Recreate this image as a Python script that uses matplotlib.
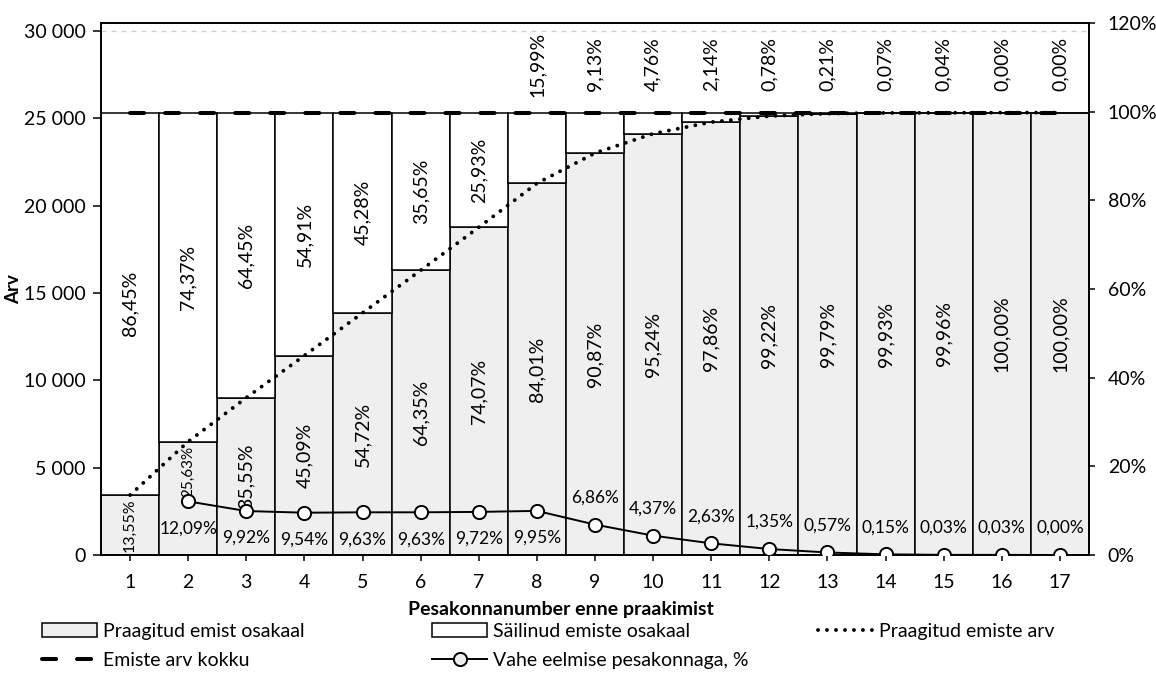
import numpy as np
import matplotlib
matplotlib.use("Agg")
import matplotlib.pyplot as plt
from matplotlib.ticker import FuncFormatter, MultipleLocator
from matplotlib.patches import Patch
from matplotlib.lines import Line2D

plt.rcParams["font.family"] = ["Lato", "DejaVu Sans"]

# litter number before culling
litters = [1, 2, 3, 4, 5, 6, 7, 8, 9, 10, 11, 12, 13, 14, 15, 16, 17]
# culled sows (cumulative count) and retained sows
culled_count = [3431, 6490, 9001, 11417, 13855, 16293, 18755, 21271, 23008,
                24115, 24778, 25122, 25267, 25302, 25310, 25320, 25320]
retained_count = [21889, 18830, 16319, 13903, 11465, 9027, 6565, 4049, 2312,
                  1205, 542, 198, 53, 18, 10, 0, 0]
total_count = [25320, 25320, 25320, 25320, 25320, 25320, 25320, 25320, 25320,
               25320, 25320, 25320, 25320, 25320, 25320, 25320, 25320]
# shares, %
culled_share = [13.55, 25.63, 35.55, 45.09, 54.72, 64.35, 74.07, 84.01, 90.87,
                95.24, 97.86, 99.22, 99.79, 99.93, 99.96, 100.00, 100.00]
retained_share = [86.45, 74.37, 64.45, 54.91, 45.28, 35.65, 25.93, 15.99, 9.13,
                  4.76, 2.14, 0.78, 0.21, 0.07, 0.04, 0.00, 0.00]
# difference from previous litter, %
diff_litters = [2, 3, 4, 5, 6, 7, 8, 9, 10, 11, 12, 13, 14, 15, 16, 17]
diff_prev = [12.09, 9.92, 9.54, 9.63, 9.63, 9.72, 9.95, 6.86, 4.37, 2.63,
             1.35, 0.57, 0.15, 0.03, 0.03, 0.00]


def pct(v):
    return f"{v:.2f}%".replace(".", ",")


W, H = 1156, 673
fig = plt.figure(figsize=(W / 100, H / 100), dpi=100)
ax = fig.add_axes([101 / W, 118 / H, 988 / W, 532 / H])

gray = "#efefef"
ax.bar(litters, culled_count, width=1.0, color=gray, edgecolor="black",
       linewidth=1.1, zorder=2)
ax.bar(litters, retained_count, bottom=culled_count, width=1.0, color="white",
       edgecolor="black", linewidth=1.1, zorder=2)

# praagitud emiste arv (dotted) and emiste arv kokku (dashed)
dot_style = dict(color="black", lw=2.8, linestyle=(0, (0.01, 2.3)),
                 dash_capstyle="round")
dash_style = dict(color="black", lw=2.9, linestyle=(0, (3.5, 5.2)),
                  dash_capstyle="round")
ax.plot(litters, culled_count, zorder=4, **dot_style)
ax.plot(litters, total_count, zorder=4, **dash_style)

ax.set_xlim(0.5, 17.5)
ax.set_ylim(0, 30450)
ax.set_xticks(litters)
ax.yaxis.set_major_locator(MultipleLocator(5000))
ax.yaxis.set_major_formatter(FuncFormatter(lambda v, p: f"{v:,.0f}".replace(",", " ")))
ax.grid(axis="y", color="#cfcfcf", linestyle=(0, (4, 4)), lw=0.9)
ax.set_axisbelow(True)
ax.tick_params(axis="y", direction="out", length=6, width=1.1, labelsize=14, pad=5)
ax.tick_params(axis="x", direction="out", length=4, width=1.1, labelsize=14, pad=10)
for s in ax.spines.values():
    s.set_linewidth(1.2)
ax.set_ylabel("Arv", fontsize=13.5, fontweight="bold", labelpad=1)

# bar labels
for i, x in enumerate(litters):
    if i < 7:
        y_top = culled_count[i] + retained_count[i] / 2
    else:
        y_top = 28100
    ax.text(x, y_top, pct(retained_share[i]), rotation=90, ha="center",
            va="center", fontsize=14, zorder=6)
    y_low = culled_count[i] / 2
    fs = 14
    if i == 0:
        fs = 11.5
    if i == 1:
        y_low = 4800
        fs = 11
    ax.text(x, y_low, pct(culled_share[i]), rotation=90, ha="center",
            va="center", fontsize=fs, zorder=6)

ax2 = ax.twinx()
ax2.set_ylim(0, 1.2)
ax2.yaxis.set_major_locator(MultipleLocator(0.2))
ax2.yaxis.set_major_formatter(FuncFormatter(lambda v, p: f"{v * 100:.0f}%"))
ax2.tick_params(axis="y", direction="out", length=4.5, width=1.1, labelsize=14, pad=9)
for s in ax2.spines.values():
    s.set_linewidth(1.2)
diff_frac = np.array(diff_prev) / 100
ax2.plot(diff_litters, diff_frac, color="black", lw=1.4, marker="o", ms=9.5,
         mfc="white", mec="black", mew=1.4, zorder=5)
for x, v in zip(diff_litters, diff_prev):
    off = -19.5 if x <= 8 else 19.5
    ax2.annotate(pct(v), (x, v / 100), xytext=(0, off), textcoords="offset points",
                 ha="center", va="center", fontsize=12.5)

fig.text(561 / W, 1 - 609 / H, "Pesakonnanumber enne praakimist", ha="center",
         va="center", fontsize=14, fontweight="bold")

# legend, three columns
h_culled = Patch(facecolor=gray, edgecolor="black", linewidth=1.1)
h_retained = Patch(facecolor="white", edgecolor="black", linewidth=1.1)
h_dotted = Line2D([], [], **dot_style)
h_total = Line2D([], [], **dash_style)
h_diff = Line2D([], [], color="black", lw=1.4, marker="o", ms=9.5,
                mfc="#eeeeee", mec="black", mew=1.4)

leg_kw = dict(loc="upper left", frameon=False, fontsize=14, handlelength=2.85,
              handletextpad=0.3, borderpad=0, borderaxespad=0, labelspacing=0.62)
fig.legend([h_culled, h_total], ["Praagitud emist osakaal", "Emiste arv kokku"],
           bbox_to_anchor=(42 / W, 1 - 623 / H), **leg_kw)
fig.legend([h_retained, h_diff], ["Säilinud emiste osakaal", "Vahe eelmise pesakonnaga, %"],
           bbox_to_anchor=(432 / W, 1 - 623 / H), **leg_kw)
fig.legend([h_dotted], ["Praagitud emiste arv"],
           bbox_to_anchor=(818 / W, 1 - 623 / H), **leg_kw)

fig.savefig("out.png", dpi=100)
